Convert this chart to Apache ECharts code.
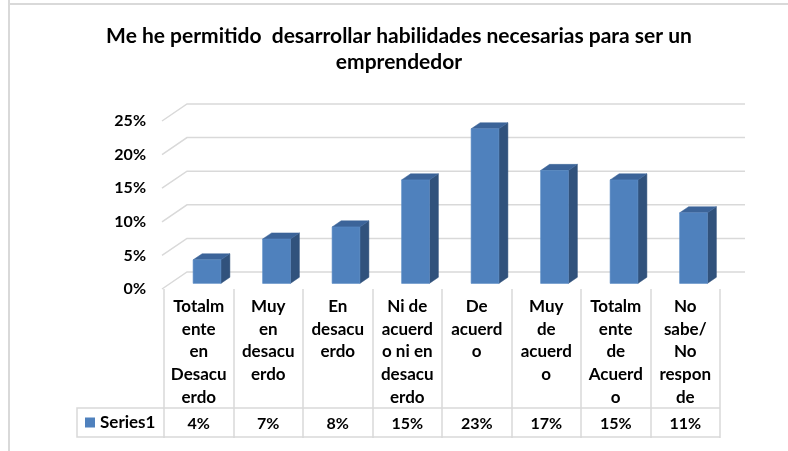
<!DOCTYPE html>
<html><head><meta charset="utf-8">
<script src="https://cdn.jsdelivr.net/npm/echarts/dist/echarts.min.js"></script>
<style>html,body{margin:0;padding:0;background:#fff}#c{width:788px;height:451px}</style>
</head><body><div id="c"></div>
<script>
const titleText = "Me he permitido  desarrollar habilidades necesarias para ser un\nemprendedor";
const categories = ["Totalm\nente\nen\nDesacu\nerdo", "Muy\nen\ndesacu\nerdo", "En\ndesacu\nerdo", "Ni de\nacuerd\no ni en\ndesacu\nerdo", "De\nacuerd\no", "Muy\nde\nacuerd\no", "Totalm\nente\nde\nAcuerd\no", "No\nsabe/\nNo\nrespon\nde"];
const seriesName = "Series1";
const values = [3.5, 6.6, 8.4, 15.4, 23.0, 16.8, 15.4, 10.5];
const tableLabels = ["4%", "7%", "8%", "15%", "23%", "17%", "15%", "11%"];
const yTicks = [0, 5, 10, 15, 20, 25];

const FONT = "Lato";
const DX = 25, DY = -17;           // full depth offset of the 3D floor
const D0 = 0.33, D1 = 0.36;        // bar front depth, bar thickness (fraction of depth)
const GRID = '#d9d9d9';

const chart = echarts.init(document.getElementById('c'), null, {renderer: 'canvas'});

function gridItem(params, api) {
  const v = api.value(1);
  const p = api.coord([0, v]);
  const band = api.size([1, 0])[0];
  const xl = p[0] - band / 2 - 2;
  const xr = api.coord([categories.length - 1, v])[0] + band / 2;
  const y = p[1];
  return {
    type: 'polyline', silent: true,
    shape: {points: [[xl, y], [xl + DX, y + DY], [xr + DX, y + DY]]},
    style: {stroke: GRID, lineWidth: 1.5, fill: null}
  };
}

function barItem(params, api) {
  const i = api.value(0), v = api.value(1);
  const base = api.coord([i, 0]);
  const top = api.coord([i, v]);
  const band = api.size([1, 0])[0];
  const w = band * 0.4;
  const ox = DX * D0, oy = DY * D0;
  const tx = DX * D1, ty = DY * D1;
  const x0 = base[0] + ox - w / 2, x1 = x0 + w;
  const yb = base[1] + oy, yt = top[1] + oy;
  return {
    type: 'group',
    children: [
      {type: 'polygon', shape: {points: [[x1, yb], [x1, yt], [x1 + tx, yt + ty], [x1 + tx, yb + ty]]},
       style: {fill: '#31527c', stroke: '#31527c', lineWidth: 0.5}},
      {type: 'polygon', shape: {points: [[x0, yt], [x1, yt], [x1 + tx, yt + ty], [x0 + tx, yt + ty]]},
       style: {fill: '#3c6499', stroke: '#3c6499', lineWidth: 0.5}},
      {type: 'rect', shape: {x: x0, y: yt, width: w, height: yb - yt},
       style: {fill: '#4f81bd', stroke: '#5b8cc6', lineWidth: 0.6}}
    ]
  };
}

function valueItem(params, api) {
  const i = api.value(0);
  const p = api.coord([i, 0]);
  return {
    type: 'text', silent: true,
    style: {x: p[0], y: p[1] + 135, text: tableLabels[i], align: 'center', verticalAlign: 'middle',
            fontFamily: FONT, fontWeight: 'bold', fontSize: 16, fill: '#000'}
  };
}

const option = {
  animation: false,
  title: {
    text: titleText, left: 394, top: 18, textAlign: 'center',
    textStyle: {fontFamily: FONT, fontWeight: 'bold', fontSize: 21, lineHeight: 26, color: '#000'}
  },
  legend: {
    data: [{name: seriesName, icon: 'rect'}],
    left: 85, top: 414, padding: 0, itemWidth: 10, itemHeight: 10,
    selectedMode: false,
    textStyle: {fontFamily: FONT, fontWeight: 'bold', fontSize: 17, color: '#000'}
  },
  grid: {left: 164, right: 68, top: 121, bottom: 162},
  xAxis: {
    type: 'category', data: categories, boundaryGap: true,
    axisLine: {show: false},
    axisTick: {show: true, interval: 0, length: 149, lineStyle: {color: GRID, width: 1.5}},
    axisLabel: {interval: 0, margin: 6, verticalAlign: 'top', fontFamily: FONT, fontWeight: 'bold',
                fontSize: 17, lineHeight: 22.7, color: '#000'},
    splitLine: {show: false}
  },
  yAxis: {
    type: 'value', min: 0, max: 25, interval: 5,
    axisLine: {show: false}, axisTick: {show: false}, splitLine: {show: false},
    axisLabel: {formatter: '{value}%', margin: 18, fontFamily: FONT, fontWeight: 'bold', fontSize: 16, color: '#000'}
  },
  graphic: [
    {type: 'line', shape: {x1: 9, y1: 0, x2: 9, y2: 451}, style: {stroke: GRID, lineWidth: 2}},
    {type: 'line', shape: {x1: 9, y1: 4, x2: 788, y2: 4}, style: {stroke: GRID, lineWidth: 2}},
    {type: 'polyline', shape: {points: [[164, 408], [77, 408], [77, 437], [720, 437]]}, style: {stroke: GRID, lineWidth: 1.5, fill: null}},
    {type: 'line', shape: {x1: 164, y1: 408, x2: 720, y2: 408}, style: {stroke: GRID, lineWidth: 1.5}}
  ],
  series: [
    {type: 'custom', name: 'grid', renderItem: gridItem, data: yTicks.map(v => [0, v]), z: 1, silent: true},
    {type: 'custom', name: seriesName, renderItem: barItem, itemStyle: {color: '#4f81bd'},
     data: values.map((v, i) => [i, v]), z: 3},
    {type: 'custom', name: 'table', renderItem: valueItem, data: tableLabels.map((t, i) => [i, 0]), z: 4, silent: true}
  ]
};
chart.setOption(option);
</script>
</body></html>
